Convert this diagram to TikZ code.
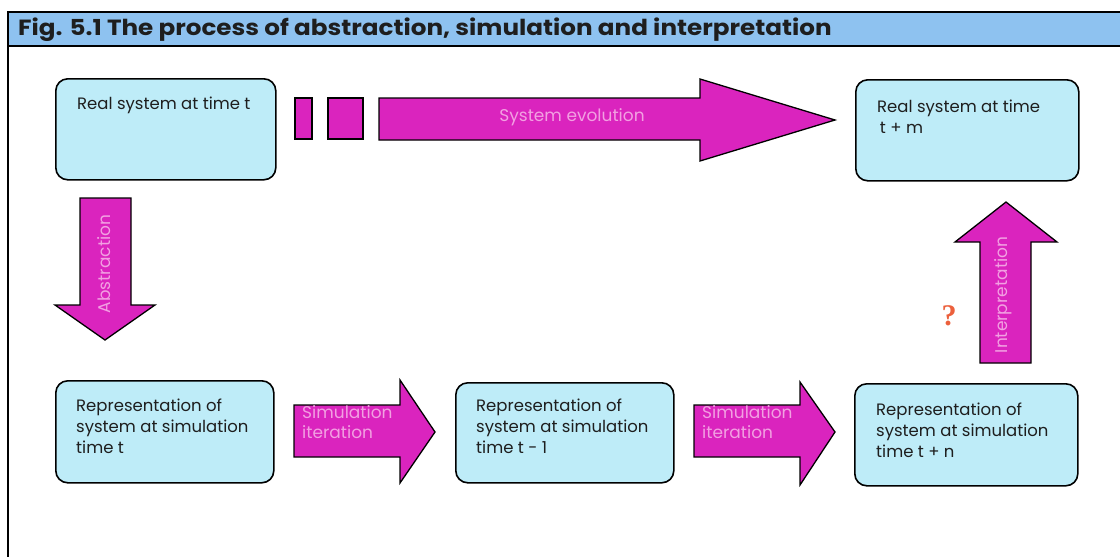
\documentclass[tikz,border=0pt]{standalone}
\usepackage{fontspec}
\setmainfont{Poppins}
\newfontfamily\titlefont[FakeStretch=1.12]{Poppins}
\newfontfamily\qmarkfont{Liberation Serif}
\definecolor{boxcyan}{RGB}{190,236,248}
\definecolor{arrowmag}{RGB}{218,36,190}
\definecolor{labelpink}{RGB}{242,160,226}
\definecolor{titleblue}{RGB}{142,194,240}
\definecolor{qorange}{RGB}{236,96,60}
\definecolor{inkgrey}{RGB}{30,30,30}
\begin{document}
\begin{tikzpicture}[x=1pt,y=-1pt,
  box/.style={draw=black,line width=1.6pt,fill=boxcyan,rounded corners=12pt,
    anchor=north west,inner sep=0pt},
  blockarrow/.style={draw=black,line width=1.3pt,fill=arrowmag,line join=miter},
  boxtext/.style={anchor=base west,inner sep=0pt,text=inkgrey,
    font=\fontsize{16.5}{21}\selectfont},
  arrowtext/.style={inner sep=0pt,text=labelpink,font=\fontsize{17}{20}\selectfont}]
\useasboundingbox (0,0) rectangle (1120,557);
\fill[white] (0,0) rectangle (1120,557);

% title bar and frame
\fill[titleblue] (8,12) rectangle (1120,46);
\draw[line width=1.6pt] (1120,12) -- (8,12) -- (8,557);
\draw[line width=1.6pt] (8,46) -- (1120,46);
\node[anchor=base west,inner sep=0pt,font=\titlefont\fontsize{22}{22}\selectfont\bfseries,text=inkgrey]
  (title) at (18,35) {Fig. 5.1 The process of abstraction, simulation and interpretation};

% state boxes
\node[box,minimum width=220pt,minimum height=101pt] (real1) at (55,78) {};
\node[box,minimum width=223pt,minimum height=101pt] (real2) at (855,79) {};
\node[box,minimum width=218pt,minimum height=102pt] (rep1) at (55,380) {};
\node[box,minimum width=218pt,minimum height=100pt] (rep2) at (455,382) {};
\node[box,minimum width=223pt,minimum height=102pt] (rep3) at (854,383) {};

\node[boxtext] (real1-t) at (77,109) {Real system at time t};
\node[boxtext] (real2-t) at (877,112) {\begin{tabular}[t]{@{}l@{}}Real system at time\\ \,t + m\end{tabular}};
\node[boxtext] (rep1-t) at (76,411) {\begin{tabular}[t]{@{}l@{}}Representation of\\ system at simulation\\ time t\end{tabular}};
\node[boxtext] (rep2-t) at (476,411) {\begin{tabular}[t]{@{}l@{}}Representation of\\ system at simulation\\ time t - 1\end{tabular}};
\node[boxtext] (rep3-t) at (876,415) {\begin{tabular}[t]{@{}l@{}}Representation of\\ system at simulation\\ time t + n\end{tabular}};

% system evolution: broken-off tail and long arrow
\draw[blockarrow] (295,98) rectangle (312,139);
\draw[blockarrow] (328,98) rectangle (363,139);
\draw[blockarrow] (379,98) -- (700,98) -- (700,79) -- (835,120) -- (700,161)
  -- (700,140) -- (379,140) -- cycle;
\node[arrowtext] (evo) at (572,117) {System evolution};

% abstraction arrow
\draw[blockarrow] (80,198) -- (131,198) -- (131,305) -- (155,305) -- (105,340)
  -- (55,305) -- (80,305) -- cycle;
\node[arrowtext,rotate=90] (abs) at (104,264) {Abstraction};

% simulation iteration arrows
\draw[blockarrow] (294,405) -- (400,405) -- (400,380) -- (435,432) -- (400,483)
  -- (400,457) -- (294,457) -- cycle;
\node[arrowtext,anchor=base west] (sim1) at (302,418)
  {\begin{tabular}[t]{@{}l@{}}Simulation\\ iteration\end{tabular}};
\draw[blockarrow] (694,405) -- (800,405) -- (800,382) -- (835,432) -- (800,485)
  -- (800,457) -- (694,457) -- cycle;
\node[arrowtext,anchor=base west] (sim2) at (702,418)
  {\begin{tabular}[t]{@{}l@{}}Simulation\\ iteration\end{tabular}};

% interpretation arrow
\draw[blockarrow] (980,363) -- (980,242) -- (955,242) -- (1006,202) -- (1057,242)
  -- (1031,242) -- (1031,363) -- cycle;
\node[arrowtext,rotate=90] (interp) at (1003,295) {Interpretation};

\node[text=qorange,inner sep=0pt,font=\qmarkfont\bfseries\fontsize{30}{30}\selectfont]
  (q) at (949,316) {?};
\end{tikzpicture}
\end{document}
